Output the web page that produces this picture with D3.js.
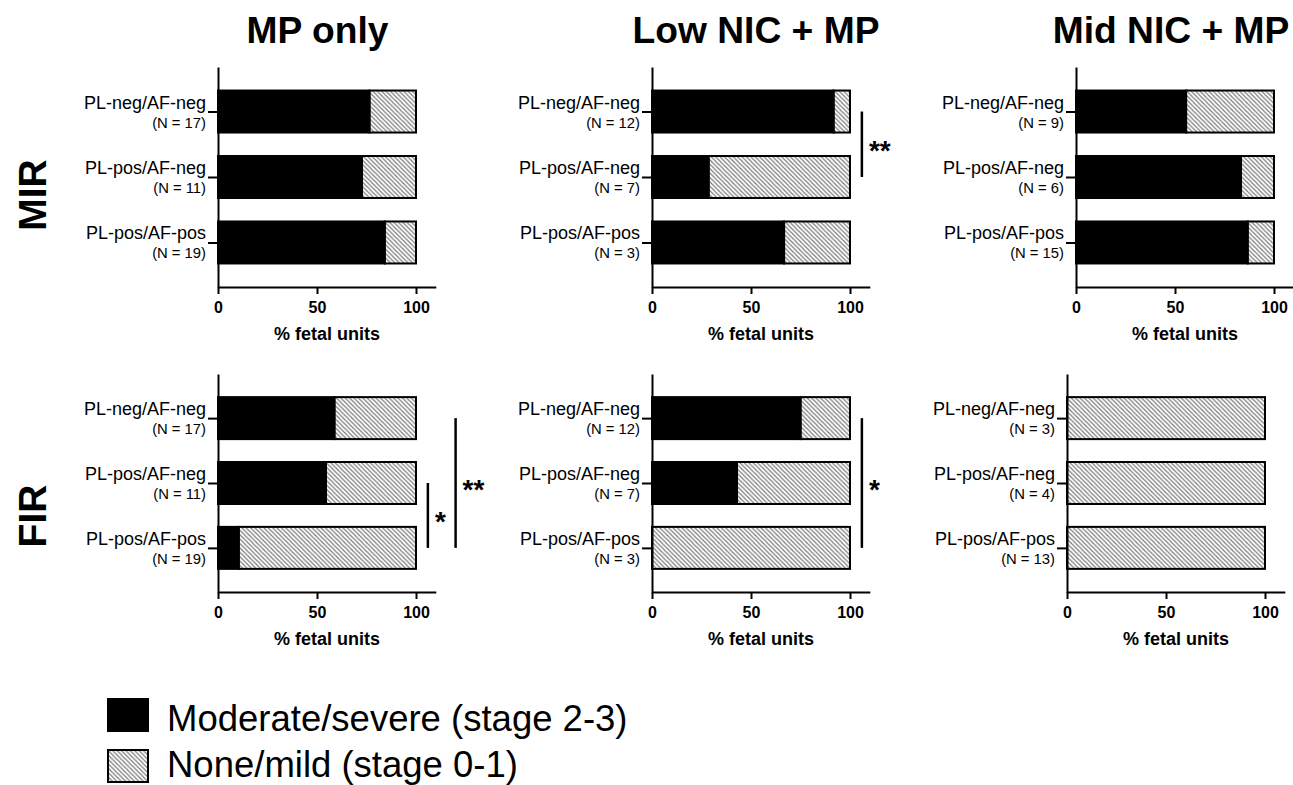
<!DOCTYPE html>
<html>
<head>
<meta charset="utf-8">
<script src="https://cdn.jsdelivr.net/npm/d3@7"></script>
<style>
  html, body { margin: 0; padding: 0; background: #fff; }
  svg { display: block; }
  text { font-family: "Liberation Sans", Arial, Helvetica, sans-serif; fill: #000; }
</style>
</head>
<body>
<svg id="chart" width="1293" height="785"></svg>
<script>
// ---------- DATA ----------
const groups = ["PL-neg/AF-neg", "PL-pos/AF-neg", "PL-pos/AF-pos"];
const treatments = ["MP only", "Low NIC + MP", "Mid NIC + MP"];
const outcomes = ["MIR", "FIR"];
const xTicks = [0, 50, 100];
// N per group, per treatment (columns)
const mirN = [[17, 11, 19], [12, 7, 3], [9, 6, 15]];
const firN = [[17, 11, 19], [12, 7, 3], [3, 4, 13]];
// % fetal units with moderate/severe (stage 2-3); rest is none/mild
const mirSevere = [[76.5, 72.7, 84.2], [91.7, 28.6, 66.7], [55.6, 83.3, 86.7]];
const firSevere = [[58.8, 54.5, 10.5], [75.0, 42.9, 0], [0, 0, 0]];
// significance brackets: row, col, from group, to group, x position (% units), label
const sigRow = [0, 1, 1, 1];
const sigCol = [1, 0, 0, 1];
const sigFrom = [0, 1, 0, 0];
const sigTo = [1, 2, 2, 2];
const sigX = [106, 106, 120, 106];
const sigLabel = ["**", "*", "**", "*"];
const legendLabels = ["Moderate/severe (stage 2-3)", "None/mild (stage 0-1)"];

// ---------- LAYOUT ----------
const svg = d3.select("#chart");
const colX = [[218, 652, 1076], [218, 652, 1067]];
const rowTop = [67, 374];
const rowAxis = [287, 592];
const plotW = 217.8;
const barH = 42;

const defs = svg.append("defs");
const pat = defs.append("pattern")
  .attr("id", "hatch").attr("patternUnits", "userSpaceOnUse")
  .attr("width", 4.4).attr("height", 4.4);
pat.append("rect").attr("width", 4.4).attr("height", 4.4).attr("fill", "#fff");
pat.append("path")
  .attr("d", "M0,0L4.4,4.4M-1.1,3.3L1.1,5.5M3.3,-1.1L5.5,1.1")
  .attr("stroke", "#7a7a7a").attr("stroke-width", 1.2);

// column titles
const titleX = [317.5, 756, 1171];
treatments.forEach((t, i) => {
  svg.append("text").attr("x", titleX[i]).attr("y", 43)
    .attr("text-anchor", "middle").attr("font-size", 37.2).attr("font-weight", "bold")
    .text(t);
});

// row labels
const rowLabelY = [195, 516];
outcomes.forEach((o, r) => {
  svg.append("text")
    .attr("transform", `translate(46,${rowLabelY[r]}) rotate(-90)`)
    .attr("text-anchor", "middle").attr("font-size", 39).attr("font-weight", "bold")
    .text(o);
});

const panels = [];
outcomes.forEach((o, r) => {
  treatments.forEach((t, c) => {
    const x0 = colX[r][c];
    const x = d3.scaleLinear().domain([0, 110]).range([x0, x0 + plotW]);
    const y = d3.scalePoint().domain(groups).range([rowTop[r], rowAxis[r]]).padding(0.68);
    const sev = r === 0 ? mirSevere[c] : firSevere[c];
    const ns = r === 0 ? mirN[c] : firN[c];
    const g = svg.append("g");
    panels.push({ r, c, x, y });

    // bars
    groups.forEach((grp, i) => {
      const yc = y(grp);
      g.append("rect")
        .attr("x", x(sev[i])).attr("y", yc - barH / 2)
        .attr("width", x(100) - x(sev[i])).attr("height", barH)
        .attr("fill", "url(#hatch)").attr("stroke", "#000").attr("stroke-width", 2);
      if (sev[i] > 0) {
        g.append("rect")
          .attr("x", x(0)).attr("y", yc - barH / 2)
          .attr("width", x(sev[i]) - x(0)).attr("height", barH)
          .attr("fill", "#000").attr("stroke", "#000").attr("stroke-width", 2);
      }
    });

    // y axis
    const ya = g.append("g").attr("transform", `translate(${x(0)},0)`)
      .call(d3.axisLeft(y).tickSize(10).tickSizeOuter(0).tickFormat(""));
    ya.selectAll("path, line").attr("stroke", "#000").attr("stroke-width", 2);
    groups.forEach((grp, i) => {
      const yc = y(grp);
      g.append("text").attr("x", x(0) - 12).attr("y", yc - 3)
        .attr("text-anchor", "end").attr("font-size", 18).text(grp);
      g.append("text").attr("x", x(0) - 12).attr("y", yc + 16)
        .attr("text-anchor", "end").attr("font-size", 14.8).text(`(N = ${ns[i]})`);
    });

    // x axis
    const xa = g.append("g").attr("transform", `translate(0,${rowAxis[r]})`)
      .call(d3.axisBottom(x).tickValues(xTicks).tickSize(7).tickSizeOuter(0).tickPadding(8));
    xa.selectAll("path, line").attr("stroke", "#000").attr("stroke-width", 2);
    xa.selectAll("text").attr("font-size", 16).attr("font-weight", "bold")
      .attr("font-family", '"Liberation Sans", Arial, sans-serif').attr("fill", "#000");
    g.append("text").attr("x", (x(0) + x(110)) / 2).attr("y", rowAxis[r] + 53)
      .attr("text-anchor", "middle").attr("font-size", 18).attr("font-weight", "bold")
      .text("% fetal units");
  });
});

// significance brackets
sigLabel.forEach((lab, k) => {
  const p = panels.find(d => d.r === sigRow[k] && d.c === sigCol[k]);
  const y1 = p.y(groups[sigFrom[k]]);
  const y2 = p.y(groups[sigTo[k]]);
  const xl = p.x(sigX[k]);
  svg.append("line").attr("x1", xl).attr("x2", xl).attr("y1", y1).attr("y2", y2)
    .attr("stroke", "#000").attr("stroke-width", 2.5);
  svg.append("text").attr("x", xl + 7).attr("y", (y1 + y2) / 2 + 16)
    .attr("font-size", 28).attr("font-weight", "bold").text(lab);
});

// legend
const legY = [699, 750];
const legBase = [731, 777];
legendLabels.forEach((lab, i) => {
  svg.append("rect").attr("x", 108).attr("y", legY[i]).attr("width", 40).attr("height", 32)
    .attr("fill", i === 0 ? "#000" : "url(#hatch)").attr("stroke", "#000").attr("stroke-width", 2);
  svg.append("text").attr("x", 167).attr("y", legBase[i])
    .attr("font-size", 36.5).text(lab);
});
</script>
</body>
</html>
